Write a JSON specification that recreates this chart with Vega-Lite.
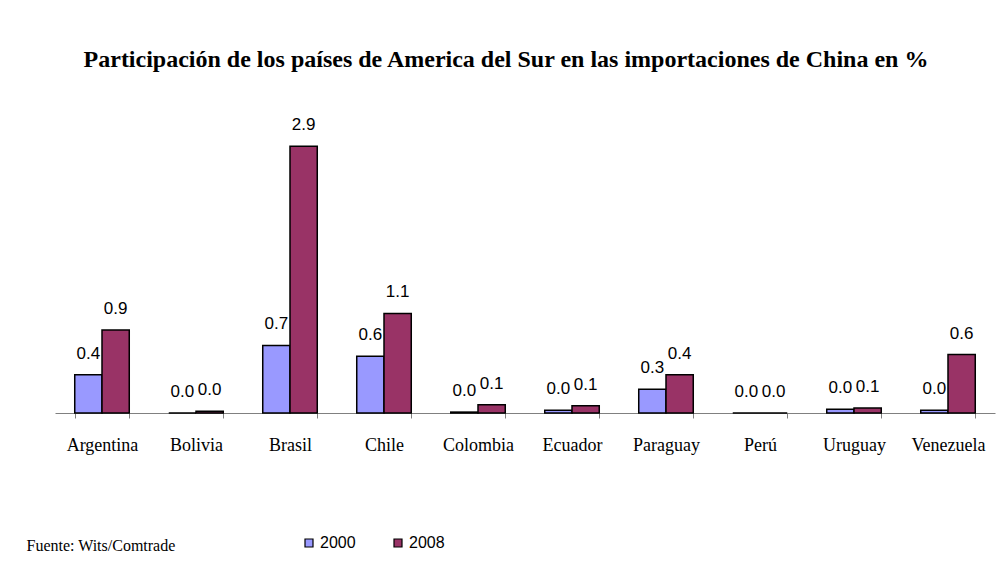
{
  "$schema": "https://vega.github.io/schema/vega-lite/v6.json",
  "autosize": {"type": "none"},
  "width": 940,
  "height": 274,
  "padding": {"left": 55, "top": 139, "right": 13, "bottom": 161},
  "background": "white",
  "title": {
    "text": "Participación de los países de America del Sur  en las importaciones de China en %",
    "font": "Liberation Serif",
    "fontSize": 24,
    "fontWeight": "bold",
    "color": "black",
    "baseline": "alphabetic",
    "offset": 25,
    "dx": -19
  },
  "data": {
    "values": [
      {"country": "Argentina", "year": "2000", "value": 0.42},
      {"country": "Argentina", "year": "2008", "value": 0.91},
      {"country": "Bolivia", "year": "2000", "value": 0.0},
      {"country": "Bolivia", "year": "2008", "value": 0.02},
      {"country": "Brasil", "year": "2000", "value": 0.74},
      {"country": "Brasil", "year": "2008", "value": 2.92},
      {"country": "Chile", "year": "2000", "value": 0.62},
      {"country": "Chile", "year": "2008", "value": 1.09},
      {"country": "Colombia", "year": "2000", "value": 0.01},
      {"country": "Colombia", "year": "2008", "value": 0.09},
      {"country": "Ecuador", "year": "2000", "value": 0.03},
      {"country": "Ecuador", "year": "2008", "value": 0.08},
      {"country": "Paraguay", "year": "2000", "value": 0.26},
      {"country": "Paraguay", "year": "2008", "value": 0.42},
      {"country": "Perú", "year": "2000", "value": 0.0},
      {"country": "Perú", "year": "2008", "value": 0.0},
      {"country": "Uruguay", "year": "2000", "value": 0.04},
      {"country": "Uruguay", "year": "2008", "value": 0.055},
      {"country": "Venezuela", "year": "2000", "value": 0.03},
      {"country": "Venezuela", "year": "2008", "value": 0.64}
    ]
  },
  "encoding": {
    "x": {
      "field": "country",
      "type": "nominal",
      "sort": null,
      "scale": {"paddingInner": 0.42, "paddingOuter": 0.21},
      "axis": {
        "title": "Fuente: Wits/Comtrade",
        "titleFont": "Liberation Serif",
        "titleFontSize": 16,
        "titleFontWeight": "normal",
        "titleColor": "black",
        "titleAnchor": "start",
        "titleAlign": "left",
        "titleBaseline": "alphabetic",
        "titleX": -29,
        "titleY": 137,
        "labelAngle": 0,
        "labelFont": "Liberation Serif",
        "labelFontSize": 18,
        "labelColor": "black",
        "labelBaseline": "alphabetic",
        "labelPadding": 32,
        "tickBand": "extent",
        "tickSize": 5,
        "tickColor": "#808080",
        "domainColor": "#808080",
        "grid": false
      }
    },
    "xOffset": {"field": "year", "type": "nominal", "scale": {"paddingInner": 0, "paddingOuter": 0}},
    "y": {
      "field": "value",
      "type": "quantitative",
      "scale": {"domain": [0, 3], "nice": false},
      "axis": null
    }
  },
  "layer": [
    {
      "mark": {"type": "bar", "stroke": "black", "strokeWidth": 1.5},
      "encoding": {
        "color": {
          "field": "year",
          "type": "nominal",
          "scale": {"domain": ["2000", "2008"], "range": ["#9999FF", "#993366"]},
          "legend": {
            "title": null,
            "orient": "none",
            "direction": "horizontal",
            "legendX": 246,
            "legendY": 396,
            "symbolType": "square",
            "symbolSize": 64,
            "symbolStrokeColor": "black",
            "symbolStrokeWidth": 1.2,
            "labelFont": "Liberation Sans",
            "labelFontSize": 16,
            "labelColor": "black",
            "labelOffset": 3,
            "columnPadding": 34
          }
        }
      }
    },
    {
      "mark": {"type": "text", "font": "Liberation Sans", "fontSize": 17, "color": "black", "baseline": "alphabetic", "dy": -16},
      "encoding": {
        "text": {"field": "value", "type": "quantitative", "format": ".1f"}
      }
    }
  ],
  "config": {"view": {"stroke": null}}
}
